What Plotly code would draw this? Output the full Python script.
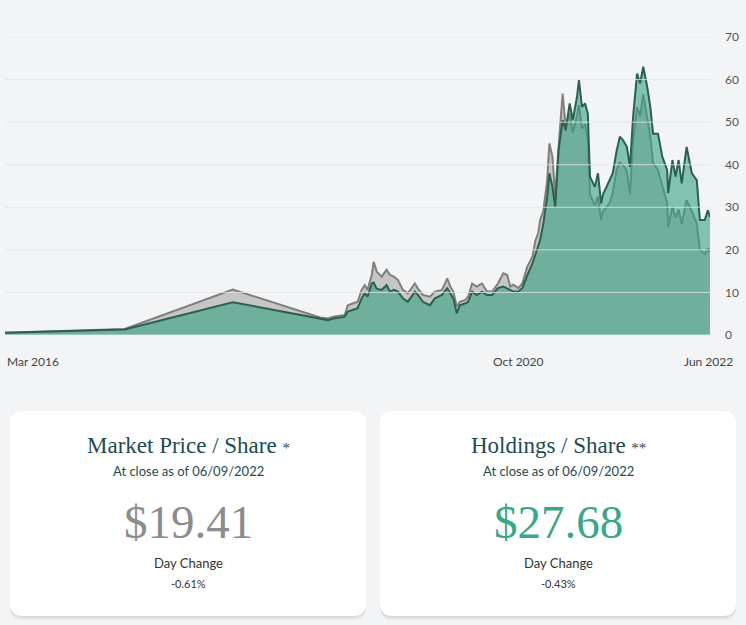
import plotly.graph_objects as go

# GBTC-style history: market price vs holdings per share
dates = [
    "2016-03-01", "2017-03-25", "2018-03-11", "2018-12-20", "2019-01-15",
    "2019-02-01", "2019-03-10", "2019-03-20", "2019-04-05", "2019-04-21",
    "2019-05-04", "2019-05-14", "2019-05-23", "2019-06-06", "2019-06-12",
    "2019-06-22", "2019-07-08", "2019-07-24", "2019-08-04", "2019-08-17",
    "2019-08-30", "2019-09-15", "2019-10-01", "2019-10-24", "2019-11-03",
    "2019-11-19", "2019-12-12", "2019-12-28", "2020-01-20", "2020-02-06",
    "2020-02-16", "2020-02-26", "2020-03-08", "2020-03-18", "2020-04-04",
    "2020-04-14", "2020-04-27", "2020-05-12", "2020-05-29", "2020-06-14",
    "2020-07-01", "2020-07-20", "2020-08-06", "2020-08-19", "2020-08-29",
    "2020-09-08", "2020-09-24", "2020-10-07", "2020-10-23", "2020-11-09",
    "2020-11-18", "2020-11-28", "2020-12-04", "2020-12-14", "2020-12-27",
    "2021-01-03", "2021-01-13", "2021-01-22", "2021-02-02", "2021-02-15",
    "2021-02-25", "2021-03-10", "2021-03-20", "2021-04-03", "2021-04-09",
    "2021-04-19", "2021-04-29", "2021-05-08", "2021-05-15", "2021-05-31",
    "2021-06-10", "2021-06-20", "2021-06-26", "2021-07-18", "2021-07-28",
    "2021-08-10", "2021-08-20", "2021-08-30", "2021-09-12", "2021-09-22",
    "2021-10-02", "2021-10-15", "2021-10-25", "2021-11-04", "2021-11-17",
    "2021-11-27", "2021-12-06", "2021-12-22", "2022-01-05", "2022-01-21",
    "2022-01-24", "2022-02-07", "2022-02-17", "2022-02-27", "2022-03-09",
    "2022-03-25", "2022-04-11", "2022-04-27", "2022-05-07", "2022-05-23",
    "2022-06-02", "2022-06-09",
]
market_price = [
    0.5, 1.4, 10.7, 4.1, 3.9,
    4.3, 4.7, 7.0, 7.4, 7.8,
    10.6, 11.7, 10.6, 14.1, 17.2,
    14.9, 13.7, 15.3, 14.1, 13.7,
    12.9, 10.6, 9.8, 12.1, 10.9,
    9.4, 9.0, 10.2, 10.6, 13.3,
    11.4, 10.2, 6.7, 7.8, 8.2,
    9.0, 12.1, 11.4, 12.1, 10.2,
    10.2, 12.1, 14.5, 14.1, 11.4,
    11.8, 11.0, 12.1, 16.0, 18.4,
    22.0, 24.0, 27.0, 29.0, 36.4,
    45.0, 41.9, 32.5, 44.2, 56.7,
    48.9, 52.0, 47.5, 51.5, 54.0,
    48.5, 49.5, 46.0, 33.0, 30.5,
    32.5, 27.0, 29.0, 31.0, 33.5,
    39.0, 40.5, 40.0, 38.5, 33.0,
    45.5, 53.5, 51.5, 56.5, 51.0,
    46.5, 40.5, 38.7, 35.0, 31.0,
    25.4, 30.1, 27.5, 29.5, 26.0,
    31.7, 29.0, 26.2, 20.0, 19.0,
    20.4, 19.41,
]
holdings = [
    0.5, 1.3, 7.7, 3.7, 3.5,
    3.9, 4.3, 5.5, 5.9, 6.3,
    8.6, 9.8, 9.0, 12.1, 12.3,
    10.9, 10.6, 11.7, 10.2, 10.6,
    10.2, 8.6, 7.8, 10.2, 9.4,
    7.8, 7.0, 8.6, 9.4, 11.0,
    9.8, 8.6, 5.1, 7.0, 7.4,
    7.8, 10.2, 9.4, 10.2, 9.4,
    9.4, 11.0, 11.4, 11.0, 10.6,
    10.2, 10.2, 11.0, 14.0, 16.8,
    18.8, 20.7, 22.3, 26.0, 32.5,
    38.0, 34.8, 30.1, 43.4, 50.5,
    48.1, 54.4, 50.5, 56.0, 59.9,
    53.6, 54.4, 52.0, 37.2, 34.8,
    38.0, 30.9, 33.0, 36.4, 38.0,
    43.4, 46.6, 45.8, 44.2, 39.5,
    51.2, 61.4, 59.1, 63.0, 58.3,
    53.6, 47.3, 47.3, 41.9, 38.7,
    33.3, 41.1, 37.2, 41.1, 35.6,
    44.2, 38.0, 36.4, 27.0, 27.0,
    29.3, 27.68,
]

y_ticks = [0, 10, 20, 30, 40, 50, 60, 70]
x_label_text = ["Mar 2016", "Oct 2020", "Jun 2022"]
x_label_dates = ["2016-03-01", "2020-09-24", "2022-06-09"]

card_titles = ["Market Price / Share", "Holdings / Share"]
card_marks = ["*", "**"]
card_asof = ["At close as of 06/09/2022", "At close as of 06/09/2022"]
card_values = ["$19.41", "$27.68"]
card_changes = ["-0.61%", "-0.43%"]

W, H = 746, 625
L, R, T, B = 5, 36, 37, 290
BG = "#f3f4f6"
TEAL = "#1d4b53"
SANS = "Lato, 'Open Sans', sans-serif"
SERIF = "'Liberation Serif', 'DejaVu Serif', serif"


def fx(x):
    return (x - L) / (W - L - R)


def fy(y):
    return (H - B - y) / (H - T - B)


def round_rect(x0, y0, x1, y1, r):
    # pixel box -> paper path with rounded corners
    a, b, c, d = fx(x0), fx(x1), fy(y0), fy(y1)
    rx = r / (W - L - R)
    ry = r / (H - T - B)
    return (f"M {a + rx},{c} L {b - rx},{c} Q {b},{c} {b},{c - ry} "
            f"L {b},{d + ry} Q {b},{d} {b - rx},{d} L {a + rx},{d} "
            f"Q {a},{d} {a},{d + ry} L {a},{c - ry} Q {a},{c} {a + rx},{c} Z")


fig = go.Figure()

fig.add_trace(go.Scatter(
    x=dates, y=market_price, mode="lines", fill="tozeroy",
    line=dict(color="#7f7f7f", width=2), fillcolor="#c6c6c6",
    name="Market Price / Share", hoverinfo="skip", showlegend=False,
))
fig.add_trace(go.Scatter(
    x=dates, y=holdings, mode="lines", fill="tozeroy",
    line=dict(color="#2c5f50", width=2), fillcolor="rgba(52,162,126,0.6)",
    name="Holdings / Share", hoverinfo="skip", showlegend=False,
))

shapes = []
for t in y_ticks:
    shapes.append(dict(type="line", xref="paper", yref="y", x0=0, x1=1, y0=t, y1=t,
                       line=dict(color="rgba(226,229,233,0.8)", width=1), layer="above"))

annotations = []
for i, (txt, d) in enumerate(zip(x_label_text, x_label_dates)):
    if i == 0:
        annotations.append(dict(x=0, xref="paper", xanchor="left"))
    elif i == len(x_label_text) - 1:
        annotations.append(dict(x=fx(735), xref="paper", xanchor="right"))
    else:
        annotations.append(dict(x=d, xref="x", xanchor="center"))
    annotations[-1].update(text=txt, y=fy(361), yref="paper", yanchor="middle",
                           showarrow=False, font=dict(family=SANS, size=12, color="#444"))

card_boxes = [(10, 411, 366, 616), (380, 411, 736, 616)]
value_colors = ["#8c8c8c", "#38a789"]
for i, (x0, y0, x1, y1) in enumerate(card_boxes):
    cx = fx((x0 + x1) / 2)
    shapes.append(dict(type="path", xref="paper", yref="paper",
                       path=round_rect(x0, y0 + 4, x1, y1 + 4, 13),
                       fillcolor="rgba(0,0,0,0.05)", line=dict(width=0), layer="below"))
    shapes.append(dict(type="path", xref="paper", yref="paper",
                       path=round_rect(x0, y0 + 2, x1, y1 + 2, 13),
                       fillcolor="rgba(0,0,0,0.05)", line=dict(width=0), layer="below"))
    shapes.append(dict(type="path", xref="paper", yref="paper",
                       path=round_rect(x0, y0, x1, y1, 13),
                       fillcolor="white", line=dict(width=0), layer="below"))
    base = dict(xref="paper", yref="paper", x=cx, xanchor="center", showarrow=False)
    annotations.append(dict(base, y=fy(460), yanchor="bottom",
                            text=f"{card_titles[i]} <span style='font-size:15px'>{card_marks[i]}</span>",
                            font=dict(family=SERIF, size=23, color=TEAL)))
    annotations.append(dict(base, y=fy(461), yanchor="top", text=card_asof[i],
                            font=dict(family=SANS, size=13, color=TEAL)))
    annotations.append(dict(base, y=fy(522), yanchor="middle", text=card_values[i],
                            font=dict(family=SERIF, size=47, color=value_colors[i])))
    annotations.append(dict(base, y=fy(563), yanchor="middle", text="Day Change",
                            font=dict(family=SANS, size=13, color="#333")))
    annotations.append(dict(base, y=fy(583), yanchor="middle", text=card_changes[i],
                            font=dict(family=SANS, size=11, color="#333")))

fig.update_layout(
    width=W, height=H,
    margin=dict(l=L, r=R, t=T, b=B),
    paper_bgcolor=BG, plot_bgcolor=BG,
    font=dict(family=SANS, color="#555"),
    xaxis=dict(type="date", range=[dates[0], dates[-1]], showgrid=False,
               showticklabels=False, zeroline=False, showline=False, fixedrange=True),
    yaxis=dict(side="right", range=[0, 70], tickvals=y_ticks, showgrid=False,
               zeroline=False, showline=False, ticks="", ticklabelstandoff=14,
               tickfont=dict(family=SANS, size=12, color="#555"), fixedrange=True),
    shapes=shapes,
    annotations=annotations,
)

# the browser's default body margin would push the 746x625 figure off the page
fig.write_html("out.html", config=dict(displayModeBar=False),
               post_script="document.body.style.margin='0';"
                           "document.body.style.background='%s';" % BG)
